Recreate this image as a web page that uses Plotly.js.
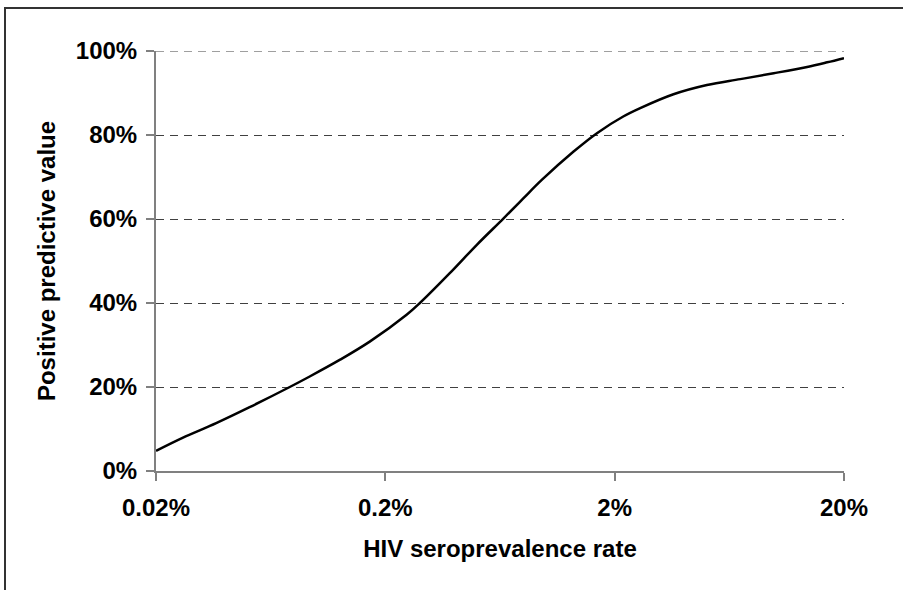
<!DOCTYPE html>
<html>
<head>
<meta charset="utf-8">
<script src="https://cdn.plot.ly/plotly-3.0.1.min.js"></script>
<style>
  html, body { margin: 0; padding: 0; background: #ffffff; }
  #wrap { position: relative; width: 903px; height: 590px; overflow: hidden; }
  #frame { position: absolute; left: 4px; top: 7px; width: 1200px; height: 1200px;
           border-left: 2px solid #333333; border-top: 2px solid #333333; box-sizing: border-box; }
  #chart { position: absolute; left: 0; top: 0; width: 903px; height: 590px; }
</style>
</head>
<body>
<div id="wrap">
  <div id="frame"></div>
  <div id="chart"></div>
</div>
<script>
// HIV seroprevalence rate (%)
const prevalence = [0.02, 0.0261, 0.0366, 0.0512, 0.0766, 0.0936, 0.127, 0.171, 0.2476, 0.283, 0.382, 0.500, 0.654, 0.799, 0.962, 1.32, 1.68, 2.18, 2.585, 3.61, 5.05, 7.06, 9.87, 13.81, 16.89, 20];
// Positive predictive value (%)
const ppv = [4.8, 7.9, 11.4, 15.2, 20.0, 22.5, 26.5, 30.8, 37.2, 40.0, 47.1, 53.8, 60.1, 64.9, 69.3, 76.0, 80.5, 84.4, 86.4, 89.7, 91.9, 93.3, 94.7, 96.2, 97.3, 98.3];

const xTickVals = [0.02, 0.2, 2, 20];
const xTickText = ["0.02%", "0.2%", "2%", "20%"];
const yTickVals = [0, 20, 40, 60, 80, 100];
const yTickText = ["0%", "20%", "40%", "60%", "80%", "100%"];

const font = "Arial, 'Liberation Sans', sans-serif";
const gridColor = "#404040";
const gridDash = "8px,6px";

const trace = {
  x: prevalence,
  y: ppv,
  type: "scatter",
  mode: "lines",
  line: { color: "#000000", width: 2.5, shape: "spline", smoothing: 1 },
  hoverinfo: "skip"
};

const yTop = Math.max(...yTickVals);

const layout = {
  width: 903,
  height: 590,
  paper_bgcolor: "rgba(0,0,0,0)",
  plot_bgcolor: "rgba(0,0,0,0)",
  margin: { l: 156, r: 59, t: 51, b: 119 },
  showlegend: false,
  font: { family: font, color: "#000000", size: 24 },
  shapes: [
    { type: "line", xref: "paper", yref: "y", x0: 0, x1: 1, y0: yTop, y1: yTop,
      line: { color: gridColor, width: 1, dash: gridDash }, layer: "below" }
  ],
  xaxis: {
    type: "log",
    range: [Math.log10(0.02), Math.log10(20)],
    tickvals: xTickVals,
    ticktext: xTickText,
    ticks: "outside",
    ticklen: 8,
    tickwidth: 2,
    tickcolor: "#808080",
    showline: true,
    linecolor: "#808080",
    linewidth: 2,
    showgrid: false,
    zeroline: false,
    tickfont: { family: font, size: 24, color: "#000000", weight: "bold" },
    ticklabelstandoff: 6,
    title: { text: "<b>HIV seroprevalence rate</b>", font: { family: font, size: 24, color: "#000000" }, standoff: 20 },
    automargin: false,
    fixedrange: true
  },
  yaxis: {
    range: [0, 100],
    tickvals: yTickVals,
    ticktext: yTickText,
    ticks: "outside",
    ticklen: 8,
    tickwidth: 2,
    tickcolor: "#808080",
    showline: true,
    linecolor: "#808080",
    linewidth: 2,
    showgrid: true,
    gridcolor: gridColor,
    gridwidth: 1,
    griddash: gridDash,
    zeroline: false,
    tickfont: { family: font, size: 24, color: "#000000", weight: "bold" },
    ticklabelstandoff: 4,
    title: { text: "<b>Positive predictive value</b>", font: { family: font, size: 24, color: "#000000" }, standoff: 13 },
    automargin: false,
    fixedrange: true
  }
};

Plotly.newPlot("chart", [trace], layout, { displayModeBar: false, staticPlot: true });
</script>
</body>
</html>
